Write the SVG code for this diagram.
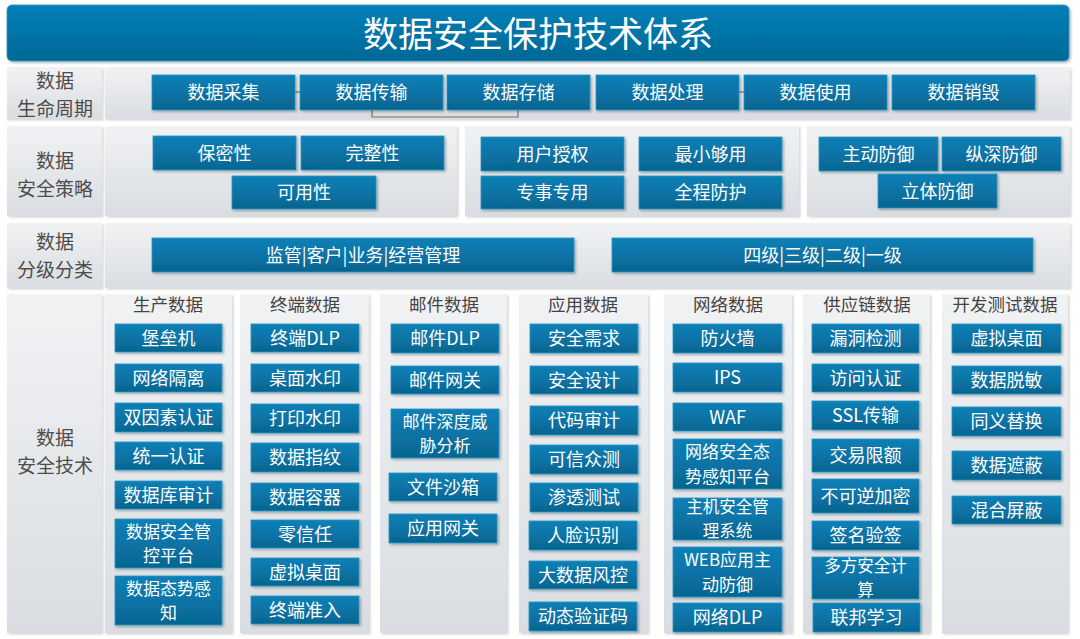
<svg xmlns="http://www.w3.org/2000/svg" width="1080" height="639" viewBox="0 0 1080 639">
<defs>
<linearGradient id="blue" x1="0" y1="0" x2="0" y2="1">
<stop offset="0" stop-color="#0a80b6"/>
<stop offset="0.5" stop-color="#0873a6"/>
<stop offset="1" stop-color="#06658f"/>
</linearGradient>
<linearGradient id="titleG" x1="0" y1="0" x2="0" y2="1">
<stop offset="0" stop-color="#0680b8"/>
<stop offset="1" stop-color="#056896"/>
</linearGradient>
<linearGradient id="grey" x1="0" y1="0" x2="0" y2="1">
<stop offset="0" stop-color="#f1f2f4"/>
<stop offset="1" stop-color="#d9dde1"/>
</linearGradient>
<filter id="sh" x="-10%" y="-10%" width="130%" height="140%">
<feDropShadow dx="1.5" dy="1.5" stdDeviation="0.8" flood-color="#000" flood-opacity="0.3"/>
</filter>
<filter id="psh" x="-5%" y="-5%" width="110%" height="110%">
<feDropShadow dx="1.5" dy="1.5" stdDeviation="1" flood-color="#888" flood-opacity="0.35"/>
</filter>
</defs>
<style>
text{font-family:"Noto Sans CJK SC","Noto Sans",sans-serif;text-anchor:middle;dominant-baseline:central;transform:translateY(-1.5px)}
.b{fill:url(#blue);stroke:#2a96c9;stroke-width:0.8;filter:url(#sh)}
.p{fill:url(#grey);filter:url(#psh)}
.t{fill:#fff;font-size:18px}
.t2{fill:#fff;font-size:17px}
.t3{fill:#fff;font-size:16.5px}
.lbl{fill:#4d4d4d;font-size:19px}
.h{fill:#444;font-size:17.5px}
.c{fill:none;stroke:#707070;stroke-width:1.2}
</style>
<rect width="1080" height="639" fill="#fff"/>

<g id="title">
<rect x="7" y="5" width="1062" height="56" rx="5" fill="url(#titleG)" stroke="#2a96c9" stroke-width="0.8" filter="url(#sh)"/>
<text x="538" y="33" fill="#fff" font-size="35px">数据安全保护技术体系</text>
</g>

<g id="panels">
<rect class="p" x="7" y="67" width="95" height="52"/>
<rect class="p" x="105" y="67" width="965" height="52"/>
<rect class="p" x="7" y="126" width="95" height="90"/>
<rect class="p" x="105" y="126" width="352" height="90"/>
<rect class="p" x="465" y="126" width="334" height="90"/>
<rect class="p" x="807" y="126" width="263" height="90"/>
<rect class="p" x="7" y="223" width="95" height="65"/>
<rect class="p" x="105" y="223" width="965" height="65"/>
<rect class="p" x="7" y="294" width="95" height="339"/>
<rect class="p" x="105" y="294" width="127" height="339"/>
<rect class="p" x="240" y="294" width="129" height="339"/>
<rect class="p" x="380" y="294" width="127" height="339"/>
<rect class="p" x="519" y="294" width="129" height="339"/>
<rect class="p" x="664" y="294" width="128" height="339"/>
<rect class="p" x="803" y="294" width="127" height="339"/>
<rect class="p" x="942" y="294" width="126" height="339"/>
</g>

<g id="row-labels">
<text class="lbl" x="55" y="94"><tspan x="55" y="80">数据</tspan><tspan x="55" y="108">生命周期</tspan></text>
<text class="lbl" x="55" y="174.5"><tspan x="55" y="160.5">数据</tspan><tspan x="55" y="188.5">安全策略</tspan></text>
<text class="lbl" x="55" y="255.5"><tspan x="55" y="241.5">数据</tspan><tspan x="55" y="269.5">分级分类</tspan></text>
<text class="lbl" x="55" y="451"><tspan x="55" y="437">数据</tspan><tspan x="55" y="465">安全技术</tspan></text>
</g>

<g id="connectors">
<line class="c" x1="295" y1="92" x2="301" y2="92"/>
<line class="c" x1="739" y1="92" x2="745" y2="92"/>
<path class="c" d="M372 110 V117 H518 V110"/>
</g>

<g id="lifecycle">
<g id="lc1"><rect class="b" x="152" y="75" width="143" height="35"/><text class="t" x="223.5" y="92.5">数据采集</text></g>
<g id="lc2"><rect class="b" x="300" y="75" width="143" height="35"/><text class="t" x="371.5" y="92.5">数据传输</text></g>
<g id="lc3"><rect class="b" x="447" y="75" width="143" height="35"/><text class="t" x="518.5" y="92.5">数据存储</text></g>
<g id="lc4"><rect class="b" x="596" y="75" width="143" height="35"/><text class="t" x="667.5" y="92.5">数据处理</text></g>
<g id="lc5"><rect class="b" x="744" y="75" width="143" height="35"/><text class="t" x="815.5" y="92.5">数据使用</text></g>
<g id="lc6"><rect class="b" x="892" y="75" width="143" height="35"/><text class="t" x="963.5" y="92.5">数据销毁</text></g>
</g>

<g id="strategy">
<g id="s1"><rect class="b" x="153" y="136" width="143" height="34"/><text class="t" x="224.5" y="153">保密性</text></g>
<g id="s2"><rect class="b" x="301" y="136" width="143" height="34"/><text class="t" x="372.5" y="153">完整性</text></g>
<g id="s3"><rect class="b" x="232" y="176" width="144" height="33"/><text class="t" x="304" y="192.5">可用性</text></g>
<g id="s4"><rect class="b" x="481" y="137" width="143" height="34"/><text class="t" x="552.5" y="154">用户授权</text></g>
<g id="s5"><rect class="b" x="639" y="137" width="143" height="34"/><text class="t" x="710.5" y="154">最小够用</text></g>
<g id="s6"><rect class="b" x="481" y="176" width="143" height="33"/><text class="t" x="552.5" y="192.5">专事专用</text></g>
<g id="s7"><rect class="b" x="639" y="176" width="143" height="33"/><text class="t" x="710.5" y="192.5">全程防护</text></g>
<g id="s8"><rect class="b" x="819" y="137" width="119" height="34"/><text class="t" x="878.5" y="154">主动防御</text></g>
<g id="s9"><rect class="b" x="942" y="137" width="119" height="34"/><text class="t" x="1001.5" y="154">纵深防御</text></g>
<g id="s10"><rect class="b" x="878" y="174" width="119" height="34"/><text class="t" x="937.5" y="191">立体防御</text></g>
</g>

<g id="classification">
<g id="c1"><rect class="b" x="152" y="238" width="422" height="34"/><text class="t" x="363" y="255">监管|客户|业务|经营管理</text></g>
<g id="c2"><rect class="b" x="612" y="238" width="421" height="34"/><text class="t" x="822.5" y="255">四级|三级|二级|一级</text></g>
</g>

<g id="headers">
<text class="h" x="168" y="305">生产数据</text>
<text class="h" x="305" y="305">终端数据</text>
<text class="h" x="444" y="305">邮件数据</text>
<text class="h" x="583" y="305">应用数据</text>
<text class="h" x="728" y="305">网络数据</text>
<text class="h" x="867" y="305">供应链数据</text>
<text class="h" x="1005" y="305">开发测试数据</text>
</g>

<g id="col-production">
<g id="p1"><rect class="b" x="115" y="324" width="107" height="28"/><text class="t" x="168.5" y="338">堡垒机</text></g>
<g id="p2"><rect class="b" x="115" y="364" width="107" height="28"/><text class="t" x="168.5" y="378">网络隔离</text></g>
<g id="p3"><rect class="b" x="115" y="403" width="107" height="29"/><text class="t" x="168.5" y="417.5">双因素认证</text></g>
<g id="p4"><rect class="b" x="115" y="442" width="107" height="28"/><text class="t" x="168.5" y="456">统一认证</text></g>
<g id="p5"><rect class="b" x="115" y="481" width="107" height="28"/><text class="t" x="168.5" y="495">数据库审计</text></g>
<g id="p6"><rect class="b" x="115" y="519" width="107" height="49"/><text class="t2" x="168.5" y="543.5"><tspan x="168.5" y="531.1">数据安全管</tspan><tspan x="168.5" y="555.9">控平台</tspan></text></g>
<g id="p7"><rect class="b" x="115" y="576" width="107" height="49"/><text class="t2" x="168.5" y="600.5"><tspan x="168.5" y="588.1">数据态势感</tspan><tspan x="168.5" y="612.9">知</tspan></text></g>
</g>

<g id="col-terminal">
<g id="e1"><rect class="b" x="251" y="324" width="108" height="28"/><text class="t" x="305" y="338">终端DLP</text></g>
<g id="e2"><rect class="b" x="251" y="364" width="108" height="28"/><text class="t" x="305" y="378">桌面水印</text></g>
<g id="e3"><rect class="b" x="251" y="404" width="108" height="29"/><text class="t" x="305" y="418.5">打印水印</text></g>
<g id="e4"><rect class="b" x="251" y="443" width="108" height="29"/><text class="t" x="305" y="457.5">数据指纹</text></g>
<g id="e5"><rect class="b" x="251" y="483" width="108" height="28"/><text class="t" x="305" y="497">数据容器</text></g>
<g id="e6"><rect class="b" x="251" y="520" width="108" height="28"/><text class="t" x="305" y="534">零信任</text></g>
<g id="e7"><rect class="b" x="251" y="558" width="108" height="28"/><text class="t" x="305" y="572">虚拟桌面</text></g>
<g id="e8"><rect class="b" x="251" y="596" width="108" height="28"/><text class="t" x="305" y="610">终端准入</text></g>
</g>

<g id="col-mail">
<g id="m1"><rect class="b" x="391" y="324" width="108" height="29"/><text class="t" x="445" y="338.5">邮件DLP</text></g>
<g id="m2"><rect class="b" x="391" y="366" width="108" height="28"/><text class="t" x="445" y="380">邮件网关</text></g>
<g id="m3"><rect class="b" x="391" y="409" width="108" height="49"/><text class="t2" x="445" y="433.5"><tspan x="445" y="421.1">邮件深度威</tspan><tspan x="445" y="445.9">胁分析</tspan></text></g>
<g id="m4"><rect class="b" x="389" y="473" width="108" height="28"/><text class="t" x="443" y="487">文件沙箱</text></g>
<g id="m5"><rect class="b" x="389" y="514" width="108" height="29"/><text class="t" x="443" y="528.5">应用网关</text></g>
</g>

<g id="col-app">
<g id="a1"><rect class="b" x="530" y="324" width="108" height="29"/><text class="t" x="584" y="338.5">安全需求</text></g>
<g id="a2"><rect class="b" x="530" y="366" width="108" height="28"/><text class="t" x="584" y="380">安全设计</text></g>
<g id="a3"><rect class="b" x="530" y="406" width="108" height="29"/><text class="t" x="584" y="420.5">代码审计</text></g>
<g id="a4"><rect class="b" x="530" y="445" width="108" height="29"/><text class="t" x="584" y="459.5">可信众测</text></g>
<g id="a5"><rect class="b" x="530" y="483" width="108" height="29"/><text class="t" x="584" y="497.5">渗透测试</text></g>
<g id="a6"><rect class="b" x="529" y="521" width="108" height="29"/><text class="t" x="583" y="535.5">人脸识别</text></g>
<g id="a7"><rect class="b" x="529" y="561" width="108" height="28"/><text class="t" x="583" y="575">大数据风控</text></g>
<g id="a8"><rect class="b" x="529" y="602" width="108" height="29"/><text class="t" x="583" y="616.5">动态验证码</text></g>
</g>

<g id="col-network">
<g id="n1"><rect class="b" x="673" y="324" width="109" height="29"/><text class="t" x="727.5" y="338.5">防火墙</text></g>
<g id="n2"><rect class="b" x="673" y="363" width="109" height="29"/><text class="t" x="727.5" y="377.5">IPS</text></g>
<g id="n3"><rect class="b" x="673" y="403" width="109" height="28"/><text class="t" x="727.5" y="417">WAF</text></g>
<g id="n4"><rect class="b" x="673" y="439" width="109" height="50"/><text class="t2" x="727.5" y="464"><tspan x="727.5" y="451.6">网络安全态</tspan><tspan x="727.5" y="476.4">势感知平台</tspan></text></g>
<g id="n5"><rect class="b" x="673" y="498" width="109" height="42"/><text class="t3" x="727.5" y="519"><tspan x="727.5" y="507">主机安全管</tspan><tspan x="727.5" y="531">理系统</tspan></text></g>
<g id="n6"><rect class="b" x="673" y="547" width="109" height="50"/><text class="t2" x="727.5" y="572"><tspan x="727.5" y="559.6">WEB应用主</tspan><tspan x="727.5" y="584.4">动防御</tspan></text></g>
<g id="n7"><rect class="b" x="673" y="603" width="109" height="29"/><text class="t" x="727.5" y="617.5">网络DLP</text></g>
</g>

<g id="col-supply">
<g id="u1"><rect class="b" x="812" y="324" width="107" height="29"/><text class="t" x="865.5" y="338.5">漏洞检测</text></g>
<g id="u2"><rect class="b" x="812" y="364" width="107" height="28"/><text class="t" x="865.5" y="378">访问认证</text></g>
<g id="u3"><rect class="b" x="812" y="401" width="107" height="29"/><text class="t" x="865.5" y="415.5">SSL传输</text></g>
<g id="u4"><rect class="b" x="812" y="439" width="107" height="33"/><text class="t" x="865.5" y="455.5">交易限额</text></g>
<g id="u5"><rect class="b" x="812" y="479" width="107" height="34"/><text class="t" x="865.5" y="496">不可逆加密</text></g>
<g id="u6"><rect class="b" x="812" y="521" width="107" height="29"/><text class="t" x="865.5" y="535.5">签名验签</text></g>
<g id="u7"><rect class="b" x="812" y="557" width="107" height="42"/><text class="t3" x="865.5" y="578"><tspan x="865.5" y="566">多方安全计</tspan><tspan x="865.5" y="590">算</tspan></text></g>
<g id="u8"><rect class="b" x="813" y="603" width="107" height="29"/><text class="t" x="866.5" y="617.5">联邦学习</text></g>
</g>

<g id="col-devtest">
<g id="d1"><rect class="b" x="952" y="324" width="109" height="29"/><text class="t" x="1006.5" y="338.5">虚拟桌面</text></g>
<g id="d2"><rect class="b" x="952" y="366" width="109" height="28"/><text class="t" x="1006.5" y="380">数据脱敏</text></g>
<g id="d3"><rect class="b" x="952" y="407" width="109" height="29"/><text class="t" x="1006.5" y="421.5">同义替换</text></g>
<g id="d4"><rect class="b" x="952" y="451" width="109" height="29"/><text class="t" x="1006.5" y="465.5">数据遮蔽</text></g>
<g id="d5"><rect class="b" x="952" y="496" width="109" height="28"/><text class="t" x="1006.5" y="510">混合屏蔽</text></g>
</g>
</svg>
